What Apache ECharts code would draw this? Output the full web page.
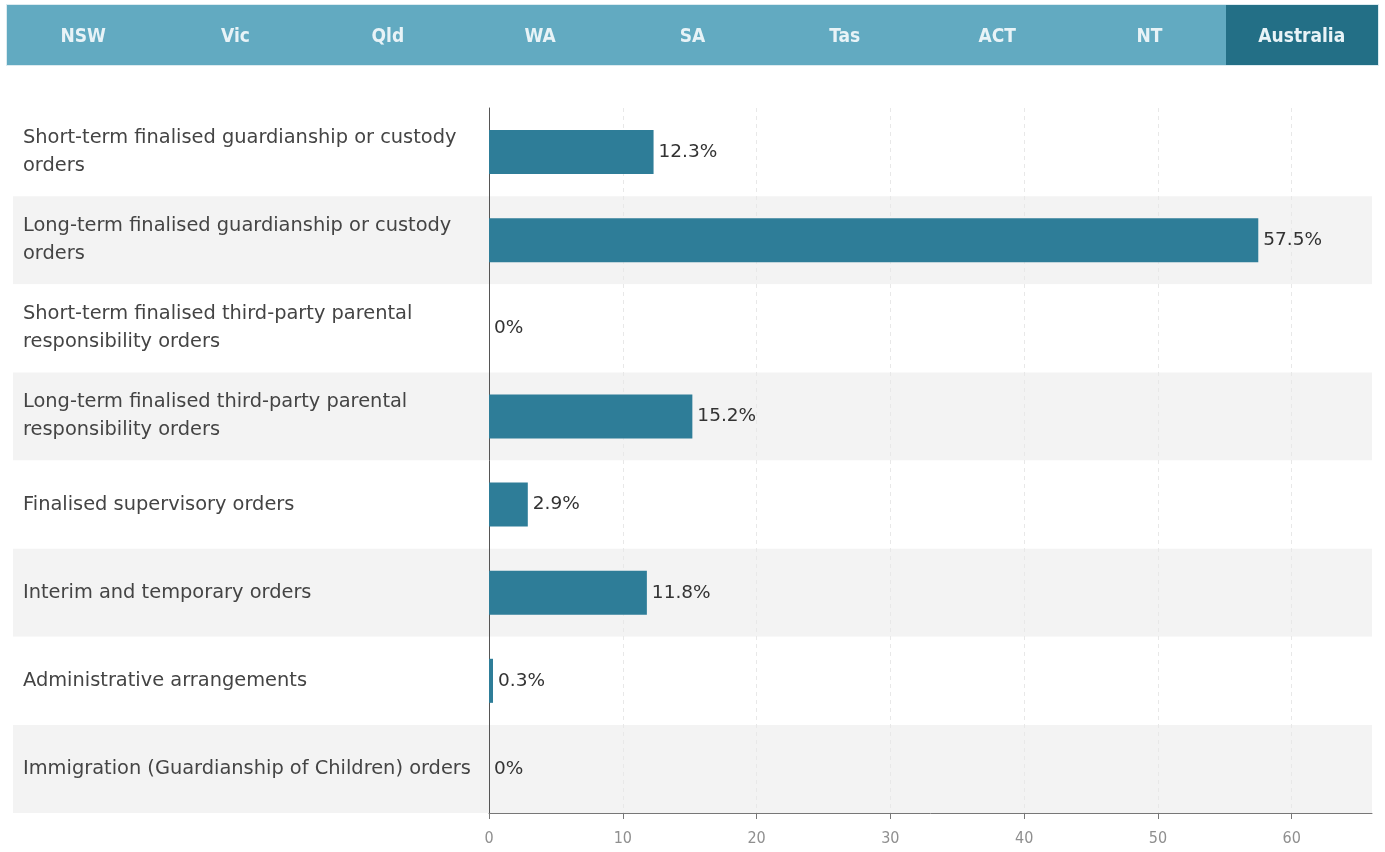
<!DOCTYPE html>
<html>
<head>
<meta charset="utf-8">
<script src="https://cdn.jsdelivr.net/npm/echarts@6/dist/echarts.min.js"></script>
<style>
  html, body { margin: 0; padding: 0; background: #fff; }
  #chart { position: absolute; left: 0; top: 0; width: 1385px; height: 852px; }
  #tabs {
    position: absolute; left: 7px; top: 5px; width: 1371px; height: 60px;
    display: flex; background: #62aac1; box-shadow: 0 0 0 1px #dcebf0;
    font-family: "DejaVu Sans Condensed", "DejaVu Sans", sans-serif;
    font-weight: bold; font-size: 19px; color: #e8f3f7;
  }
  #tabs div { flex: 1; display: flex; align-items: center; justify-content: center; }
  #tabs div.active { background: #236f86; }
</style>
</head>
<body>
<div id="chart"></div>
<div id="tabs"></div>
<script>
// Jurisdiction selector; the last one is the one shown
const jurisdictions = ['NSW', 'Vic', 'Qld', 'WA', 'SA', 'Tas', 'ACT', 'NT', 'Australia'];
const activeJurisdiction = 'Australia';

// Order types (top to bottom)
const orderTypes = [
  'Short-term finalised guardianship or custody orders',
  'Long-term finalised guardianship or custody orders',
  'Short-term finalised third-party parental responsibility orders',
  'Long-term finalised third-party parental responsibility orders',
  'Finalised supervisory orders',
  'Interim and temporary orders',
  'Administrative arrangements',
  'Immigration (Guardianship of Children) orders'
];

// Share of orders (%)
const sharePct = [12.3, 57.5, 0, 15.2, 2.9, 11.8, 0.3, 0];

// X axis tick values
const xTicks = [0, 10, 20, 30, 40, 50, 60];

const tabs = document.getElementById('tabs');
jurisdictions.forEach(j => {
  const d = document.createElement('div');
  d.textContent = j;
  if (j === activeJurisdiction) d.className = 'active';
  tabs.appendChild(d);
});

const chart = echarts.init(document.getElementById('chart'), null, { renderer: 'canvas' });
const FONT = '"DejaVu Sans", sans-serif';
const AXIS_FONT = '"DejaVu Sans Condensed", "DejaVu Sans", sans-serif';

chart.setOption({
  animation: false,
  grid: [
    { left: 489, right: 13, top: 108, bottom: 39 },   // plot
    { left: 13, right: 13, top: 108, bottom: 39 }     // row banding behind labels
  ],
  xAxis: [
    {
      gridIndex: 0, type: 'value', min: 0, max: 66, z: 2,
      axisLine: { show: true, lineStyle: { color: '#777', width: 1 } },
      axisTick: { show: true, length: 6, lineStyle: { color: '#777' }, customValues: xTicks },
      axisLabel: { customValues: xTicks, color: '#8f8f8f', fontSize: 16, fontFamily: AXIS_FONT, margin: 18 },
      splitLine: { show: true, lineStyle: { color: '#e8e8e8', type: [4, 4], width: 1 } }
    },
    { gridIndex: 1, type: 'value', show: false, min: 0, max: 1 }
  ],
  yAxis: [
    {
      gridIndex: 0, type: 'category', data: orderTypes, inverse: true, z: 2,
      axisLine: { show: true, lineStyle: { color: '#555', width: 1 } },
      axisTick: { show: false },
      splitLine: { show: false },
      axisLabel: {
        align: 'left', margin: 466, color: '#444', fontSize: 19.4, fontFamily: FONT,
        lineHeight: 28, width: 456, overflow: 'break', padding: [5, 0, 0, 0]
      }
    },
    {
      gridIndex: 1, type: 'category', data: orderTypes, inverse: true, z: 0,
      axisLine: { show: false }, axisTick: { show: false }, axisLabel: { show: false },
      splitArea: { show: true, areaStyle: { color: ['#ffffff', '#f3f3f3'] } }
    }
  ],
  series: [
    {
      type: 'bar', xAxisIndex: 0, yAxisIndex: 0, data: sharePct, z: 3,
      barWidth: '50%',
      itemStyle: { color: '#2e7d98' },
      label: {
        show: true, position: 'right', distance: 5,
        color: '#333', fontSize: 18.5, fontFamily: FONT,
        formatter: p => p.value + '%'
      }
    },
    { type: 'bar', xAxisIndex: 1, yAxisIndex: 1, data: [], silent: true }
  ]
});
</script>
</body>
</html>
